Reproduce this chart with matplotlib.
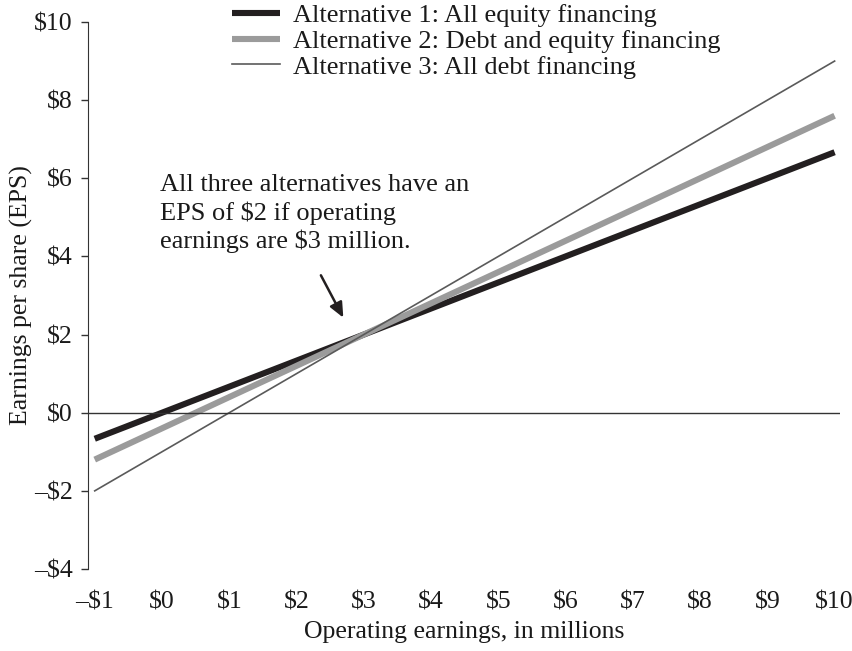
import numpy as np
import matplotlib
matplotlib.use('Agg')
import matplotlib.pyplot as plt

plt.rcParams['font.family'] = ['Liberation Serif', 'DejaVu Serif']

# operating earnings ($ millions) and EPS at the two ends of each line
earnings = [-1, 10]
eps_equity = [-0.667, 6.667]
eps_mixed = [-1.2, 7.6]
eps_debt = [-2.0, 9.0]

labels = ['Alternative 1: All equity financing',
          'Alternative 2: Debt and equity financing',
          'Alternative 3: All debt financing']

x_ticks = list(range(-1, 11))
y_ticks = list(range(-4, 11, 2))


def money(v):
    return ('\u2013$%d' % abs(v)) if v < 0 else ('$%d' % v)


fig = plt.figure(figsize=(8.53, 6.51), dpi=100)
ax = fig.add_axes([88/853, 1 - 569/651, 752/853, 547/651])

ax.plot(earnings, eps_equity, color='#231f20', lw=4.4, solid_capstyle='butt', label=labels[0])
ax.plot(earnings, eps_mixed, color='#9b9b9b', lw=4.4, solid_capstyle='butt', label=labels[1])
ax.plot(earnings, eps_debt, color='#5a5a5a', lw=1.2, label=labels[2])
ax.axhline(0, color='#333333', lw=1)

ax.set_xlim(-1.1, 10.08)
ax.set_ylim(-4, 10)
ax.set_xticks(x_ticks)
ax.set_xticklabels([money(v) for v in x_ticks])
ax.set_yticks(y_ticks)
ax.set_yticklabels([money(v) for v in y_ticks])

for s in ['top', 'right', 'bottom']:
    ax.spines[s].set_visible(False)
ax.spines['left'].set_color('#333333')
ax.tick_params(axis='x', length=0, pad=16, labelsize=18.5, colors='#1a1a1a')
ax.tick_params(axis='y', length=5, width=1, color='#333333', pad=6, labelsize=18.5, labelcolor='#1a1a1a')

ax.set_ylabel('Earnings per share (EPS)', fontsize=18.5, color='#1a1a1a')
ax.yaxis.set_label_coords(-0.073, 0.5)
ax.set_xlabel('Operating earnings, in millions', fontsize=18.5, color='#1a1a1a')
ax.xaxis.set_label_coords(0.5, -0.095)

ax.annotate('', xy=(2.715, 2.37), xytext=(2.343, 3.58),
            arrowprops=dict(arrowstyle='-|>,head_length=0.9,head_width=0.4',
                            color='#231f20', lw=1.8))
ax.text(-0.03, 6.1, 'All three alternatives have an\nEPS of $2 if operating\nearnings are $3 million.',
        ha='left', va='top', fontsize=19, color='#1a1a1a', linespacing=1.25)

fig.legend(loc='upper left', bbox_to_anchor=(232/853, 1 - 4/651), frameon=False,
           fontsize=19, handlelength=1.8, handletextpad=0.5, labelspacing=0.08,
           borderpad=0, borderaxespad=0, labelcolor='#1a1a1a')

fig.savefig('out.png', dpi=100)
